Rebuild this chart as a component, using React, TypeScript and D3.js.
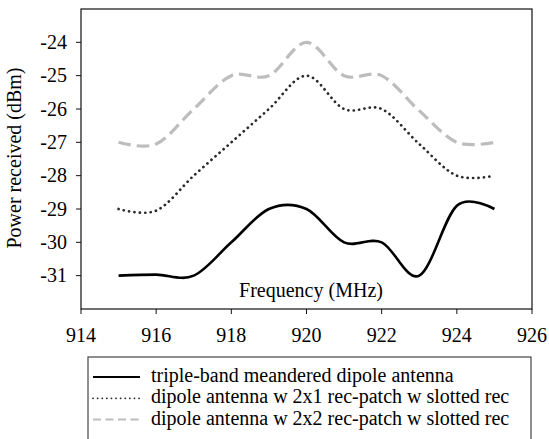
import * as d3 from "d3";

const freqs = [915, 916, 917, 918, 919, 920, 921, 922, 923, 924, 925];
const tripleBand = [-31, -30.97, -31, -30, -29, -29, -30, -30, -31, -28.9, -29];
const dipole2x1 = [-29, -29.05, -28, -27, -26, -25, -26, -26, -27.05, -28, -28];
const dipole2x2 = [-27, -27.05, -26, -25, -25, -24, -25, -25, -26.05, -27, -27];
const xTicks = [914, 916, 918, 920, 922, 924, 926];
const yTicks = [-24, -25, -26, -27, -28, -29, -30, -31];
const seriesNames = [
  "triple-band meandered dipole antenna",
  "dipole antenna w 2x1 rec-patch w slotted rec",
  "dipole antenna w 2x2 rec-patch w slotted rec",
];

const W = 549;
const H = 439;
const plot = { left: 81, right: 532, top: 9, bottom: 309 };
const font = '"Liberation Serif", "Times New Roman", Times, "DejaVu Serif", serif';

export default function App() {
  const x = d3.scaleLinear().domain([914, 926]).range([plot.left, plot.right]);
  const y = d3.scaleLinear().domain([-32, -23]).range([plot.bottom, plot.top]);

  const line = d3
    .line<number>()
    .x((_, i) => x(freqs[i]))
    .y((d) => y(d))
    .curve(d3.curveCatmullRom.alpha(0));

  const styles = [
    { stroke: "#000", width: 2.6, dash: undefined as string | undefined, cap: "butt" as const },
    { stroke: "#2a2a2a", width: 2.7, dash: "0.1 5.3", cap: "round" as const },
    { stroke: "#bdbdbd", width: 3.2, dash: "12.5 6", cap: "butt" as const },
  ];
  const series = [tripleBand, dipole2x1, dipole2x2];

  return (
    <svg
      width={W}
      height={H}
      style={{ position: "absolute", left: 0, top: 0, background: "#fff", fontFamily: font }}
    >
      {/* plot frame */}
      <rect
        x={plot.left}
        y={plot.top}
        width={plot.right - plot.left}
        height={plot.bottom - plot.top}
        fill="none"
        stroke="#111"
        strokeWidth={1.2}
      />

      {/* y ticks */}
      {yTicks.map((t) => (
        <g key={t}>
          <line x1={plot.left - 5} x2={plot.left} y1={y(t)} y2={y(t)} stroke="#111" />
          <text x={67} y={y(t) + 6.5} textAnchor="end" fontSize={20} fill="#000">
            {t}
          </text>
        </g>
      ))}

      {/* x ticks */}
      {xTicks.map((t) => (
        <g key={t}>
          <line x1={x(t)} x2={x(t)} y1={plot.bottom} y2={plot.bottom + 5} stroke="#111" />
          <text x={x(t)} y={342} textAnchor="middle" fontSize={20} fill="#000">
            {t}
          </text>
        </g>
      ))}

      <text x={311} y={297} textAnchor="middle" fontSize={20}>
        Frequency (MHz)
      </text>
      <text transform={`translate(21,158) rotate(-90)`} textAnchor="middle" fontSize={20}>
        Power received (dBm)
      </text>

      {/* series */}
      {series.map((s, i) => (
        <path
          key={i}
          d={line(s) ?? ""}
          fill="none"
          stroke={styles[i].stroke}
          strokeWidth={styles[i].width}
          strokeDasharray={styles[i].dash}
          strokeLinecap={styles[i].cap}
        />
      ))}

      {/* legend */}
      <rect x={88} y={357} width={443} height={100} fill="#fff" stroke="#444" strokeWidth={1.2} />
      {seriesNames.map((name, i) => {
        const ry = 377 + i * 21.3;
        const st = styles[i];
        return (
          <g key={name}>
            <line
              x1={93}
              x2={140}
              y1={ry}
              y2={ry}
              stroke={st.stroke}
              strokeWidth={i === 0 ? 2.2 : i === 1 ? 1.8 : 2}
              strokeDasharray={i === 1 ? "0.1 4.5" : i === 2 ? "8 4.5" : undefined}
              strokeLinecap={st.cap}
            />
            <text x={151} y={ry + 5} fontSize={20}>
              {name}
            </text>
          </g>
        );
      })}
    </svg>
  );
}
